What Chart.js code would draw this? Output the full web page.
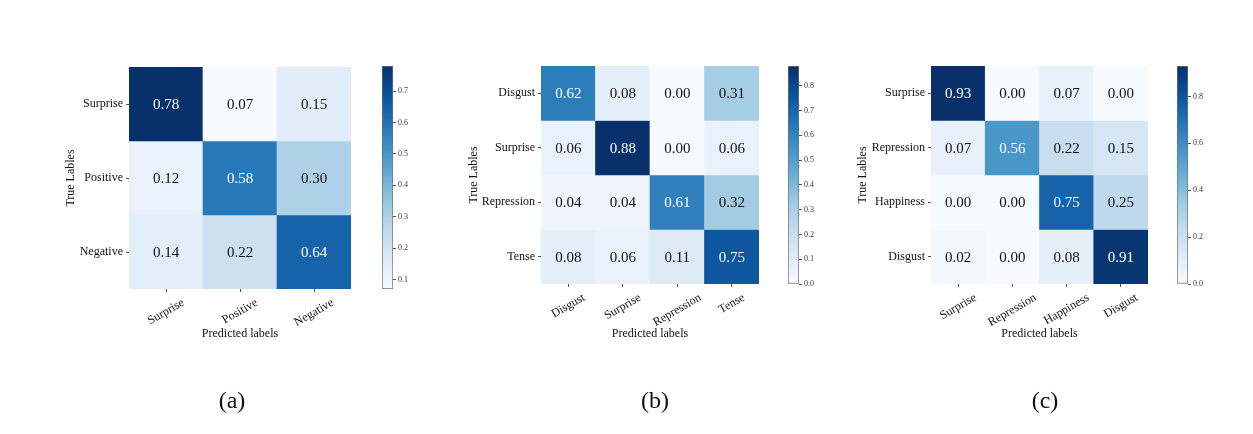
<!DOCTYPE html>
<html>
<head>
<meta charset="utf-8">
<script src="https://cdn.jsdelivr.net/npm/chart.js@4.4.1/dist/chart.umd.min.js"></script>
<style>
  html, body { margin: 0; padding: 0; background: #fff; }
  #figure { position: relative; width: 1253px; height: 434px; overflow: hidden; background: #fff; }
  #figure canvas { position: absolute; }
</style>
</head>
<body>
<div id="figure"></div>
<script>
// ---- confusion matrices -------------------------------------------------
const labelsA = ['Surprise', 'Positive', 'Negative'];
const valuesA = [
  [0.78, 0.07, 0.15],
  [0.12, 0.58, 0.30],
  [0.14, 0.22, 0.64]
];
const colorbarTicksA = [0.1, 0.2, 0.3, 0.4, 0.5, 0.6, 0.7];

const labelsB = ['Disgust', 'Surprise', 'Repression', 'Tense'];
const valuesB = [
  [0.62, 0.08, 0.00, 0.31],
  [0.06, 0.88, 0.00, 0.06],
  [0.04, 0.04, 0.61, 0.32],
  [0.08, 0.06, 0.11, 0.75]
];
const colorbarTicksB = [0.0, 0.1, 0.2, 0.3, 0.4, 0.5, 0.6, 0.7, 0.8];

const labelsC = ['Surprise', 'Repression', 'Happiness', 'Disgust'];
const valuesC = [
  [0.93, 0.00, 0.07, 0.00],
  [0.07, 0.56, 0.22, 0.15],
  [0.00, 0.00, 0.75, 0.25],
  [0.02, 0.00, 0.08, 0.91]
];
const colorbarTicksC = [0.0, 0.2, 0.4, 0.6, 0.8];

const captions = ['(a)', '(b)', '(c)'];
const xAxisTitle = 'Predicted labels';
const yAxisTitle = 'True Lables';

// ---- styling ------------------------------------------------------------
const SERIF = '"Liberation Serif", "Times New Roman", serif';
Chart.defaults.font.family = SERIF;
Chart.defaults.color = '#111';

// matplotlib "Blues" colour map anchors
const BLUES = ['#f7fbff', '#deebf7', '#c6dbef', '#9ecae1', '#6baed6',
               '#4292c6', '#2171b5', '#08519c', '#08306b'];
function hexToRgb(h) { return [1, 3, 5].map(i => parseInt(h.slice(i, i + 2), 16)); }
function blues(t) {
  t = Math.min(1, Math.max(0, t));
  const s = t * (BLUES.length - 1);
  const i = Math.min(BLUES.length - 2, Math.floor(s));
  const f = s - i;
  const a = hexToRgb(BLUES[i]), b = hexToRgb(BLUES[i + 1]);
  return 'rgb(' + a.map((c, k) => Math.round(c + (b[k] - c) * f)).join(',') + ')';
}

const figure = document.getElementById('figure');
function makeCanvas(left, top, width, height) {
  const c = document.createElement('canvas');
  c.width = width; c.height = height;
  c.style.left = left + 'px'; c.style.top = top + 'px';
  c.style.width = width + 'px'; c.style.height = height + 'px';
  figure.appendChild(c);
  return c;
}

// writes each cell's value in its centre, white on dark cells
const cellValues = {
  id: 'cellValues',
  afterDatasetsDraw(chart, args, opts) {
    const ctx = chart.ctx;
    ctx.save();
    ctx.font = '15px ' + SERIF;
    ctx.textAlign = 'center';
    ctx.textBaseline = 'middle';
    chart.data.datasets.forEach((ds, r) => {
      chart.getDatasetMeta(r).data.forEach((bar, c) => {
        const v = opts.values[r][c];
        const p = bar.getCenterPoint();
        ctx.fillStyle = v > opts.threshold ? '#ffffff' : '#111111';
        ctx.fillText(v.toFixed(2), p.x, p.y + 1);
      });
    });
    ctx.restore();
  }
};

// rotated category labels centred under their tick, top edge just below the axis
const centredTickLabels = {
  id: 'centredTickLabels',
  beforeDraw(chart) {
    const scale = chart.scales.x;
    const items = scale.getLabelItems();
    if (!items || items._centred) return;
    const ctx = chart.ctx;
    items.forEach((item, i) => {
      ctx.save();
      ctx.font = item.font.string;
      const w = ctx.measureText(item.label).width;
      ctx.restore();
      const ang = Math.abs(item.options.rotation || 0);
      const h = item.font.size * 0.72;
      const x = scale.getPixelForTick(i);
      const y = scale.top + 9 + (w * Math.sin(ang) + h * Math.cos(ang)) / 2;
      item.options.translation = [x, y];
      item.options.textAlign = 'center';
      item.options.textBaseline = 'middle';
      item.textOffset = 0;
    });
    items._centred = true;
  }
};

function heatmap(geo, rows, cols, values, caption) {
  const flat = values.flat();
  const vmin = Math.min(...flat), vmax = Math.max(...flat);
  const canvasLeft = geo.yTitleX - 22;
  const canvasTop = 40, canvasHeight = 394;
  const canvasWidth = 2 * (geo.captionX - canvasLeft);
  const yWidth = geo.left - canvasLeft;
  const spacerWidth = canvasWidth - yWidth - (geo.right - geo.left);
  const xHeight = 350 - geo.bottom;
  const canvas = makeCanvas(canvasLeft, canvasTop, canvasWidth, canvasHeight);

  const datasets = rows.map((_, r) => ({
    data: cols.map(() => [r, r + 1]),
    backgroundColor: values[r].map(v => blues((v - vmin) / (vmax - vmin))),
    borderWidth: 0,
    barPercentage: 1,
    categoryPercentage: 1,
    grouped: false
  }));

  return new Chart(canvas, {
    type: 'bar',
    data: { labels: cols, datasets },
    options: {
      responsive: false,
      animation: false,
      events: [],
      layout: { padding: { top: geo.top - canvasTop, right: 0, bottom: 0, left: 0 } },
      plugins: {
        legend: { display: false },
        tooltip: { enabled: false },
        title: {
          display: true, text: caption, position: 'bottom', color: '#111',
          font: { family: SERIF, size: 24, weight: 'normal', lineHeight: 1 },
          padding: { top: 40, bottom: 20 }
        },
        cellValues: { values, threshold: vmax / 2 }
      },
      scales: {
        x: {
          type: 'category',
          offset: true,
          grid: { display: true, offset: false, drawOnChartArea: false, drawTicks: true, tickLength: 3, color: '#555' },
          border: { display: false },
          ticks: { minRotation: 30, maxRotation: 30, autoSkip: false, color: '#111', padding: 3,
                   font: { size: 12, lineHeight: 1 } },
          title: { display: true, text: xAxisTitle, color: '#111',
                   font: { size: 12, lineHeight: 1 }, padding: { top: 0, bottom: 10 } },
          afterFit: s => { s.height = xHeight; }
        },
        y: {
          type: 'linear',
          min: 0, max: rows.length, reverse: true,
          afterBuildTicks: s => { s.ticks = rows.map((_, i) => ({ value: i + 0.5 })); },
          ticks: { callback: (v, i) => rows[i], autoSkip: false, color: '#111', padding: 3,
                   font: { size: 12 } },
          grid: { display: true, drawOnChartArea: false, drawTicks: true, tickLength: 3, color: '#555' },
          border: { display: false },
          title: { display: true, text: yAxisTitle, color: '#111',
                   font: { size: 12, lineHeight: 1 }, padding: { top: 16, bottom: 0 } },
          afterFit: s => { s.width = yWidth; }
        },
        // empty right-hand axis: leaves room for the colour bar beside the matrix
        spacer: {
          type: 'linear',
          position: 'right',
          display: true,
          grid: { display: false },
          border: { display: false },
          ticks: { display: false },
          afterFit: s => { s.width = spacerWidth; }
        }
      }
    },
    plugins: [cellValues, centredTickLabels]
  });
}

function colorbar(geo, values, tickValues) {
  const flat = values.flat();
  const vmin = Math.min(...flat), vmax = Math.max(...flat);
  const canvasLeft = geo.left - 12, canvasTop = 40, canvasHeight = 300;
  const axisWidth = 37;
  const canvasWidth = 12 + (geo.right - geo.left) + axisWidth;
  const canvas = makeCanvas(canvasLeft, canvasTop, canvasWidth, canvasHeight);

  return new Chart(canvas, {
    type: 'bar',
    data: {
      labels: [''],
      datasets: [{
        data: [[vmin, vmax]],
        backgroundColor: c => {
          const ch = c.chart;
          if (!ch.chartArea) return BLUES[4];
          const y = ch.scales.y;
          const g = ch.ctx.createLinearGradient(0, y.getPixelForValue(vmin), 0, y.getPixelForValue(vmax));
          BLUES.forEach((col, k) => g.addColorStop(k / (BLUES.length - 1), col));
          return g;
        },
        borderColor: '#6e6e6e',
        borderWidth: 1,
        borderSkipped: false,
        barPercentage: 1,
        categoryPercentage: 1
      }]
    },
    options: {
      responsive: false,
      animation: false,
      events: [],
      layout: { padding: { left: 12, top: geo.top - canvasTop, bottom: canvasTop + canvasHeight - geo.bottom, right: 0 } },
      plugins: { legend: { display: false }, tooltip: { enabled: false } },
      scales: {
        x: { display: false },
        y: {
          position: 'right',
          min: vmin, max: vmax,
          afterBuildTicks: s => { s.ticks = tickValues.map(v => ({ value: v })); },
          ticks: { callback: v => v.toFixed(1), color: '#333', padding: 2, font: { size: 8 } },
          grid: { display: true, drawOnChartArea: false, drawTicks: true, tickLength: 3, color: '#555' },
          border: { display: false },
          afterFit: s => { s.width = axisWidth; }
        }
      }
    }
  });
}

// (a)
heatmap({ left: 129, right: 351, top: 67, bottom: 289, yTitleX: 71, captionX: 232 },
        labelsA, labelsA, valuesA, captions[0]);
colorbar({ left: 382, right: 393, top: 66, bottom: 289 }, valuesA, colorbarTicksA);

// (b)
heatmap({ left: 541, right: 759, top: 66, bottom: 284, yTitleX: 474, captionX: 655 },
        labelsB, labelsB, valuesB, captions[1]);
colorbar({ left: 788, right: 799, top: 66, bottom: 284 }, valuesB, colorbarTicksB);

// (c)
heatmap({ left: 931, right: 1148, top: 66, bottom: 284, yTitleX: 863, captionX: 1045 },
        labelsC, labelsC, valuesC, captions[2]);
colorbar({ left: 1177, right: 1188, top: 66, bottom: 284 }, valuesC, colorbarTicksC);
</script>
</body>
</html>
